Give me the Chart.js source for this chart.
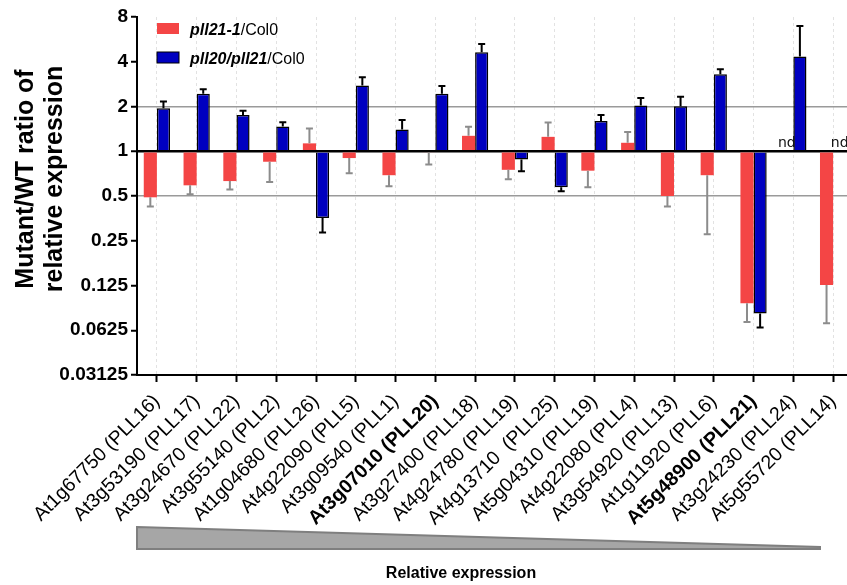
<!DOCTYPE html>
<html>
<head>
<meta charset="utf-8">
<script src="https://cdn.jsdelivr.net/npm/chart.js@4.4.1/dist/chart.umd.min.js"></script>
<style>
html, body { margin: 0; padding: 0; background: #fff; overflow: hidden; }
</style>
</head>
<body>
<canvas id="myChart" width="860" height="585"></canvas>
<script>
const categories = [
    'At1g67750 (PLL16)', 'At3g53190 (PLL17)', 'At3g24670 (PLL22)', 'At3g55140 (PLL2)',
    'At1g04680 (PLL26)', 'At4g22090 (PLL5)', 'At3g09540 (PLL1)', 'At3g07010 (PLL20)',
    'At3g27400 (PLL18)', 'At4g24780 (PLL19)', 'At4g13710  (PLL25)', 'At5g04310 (PLL19)',
    'At4g22080 (PLL4)', 'At3g54920 (PLL13)', 'At1g11920 (PLL6)', 'At5g48900 (PLL21)',
    'At3g24230 (PLL24)', 'At5g55720 (PLL14)'
];
const boldCategories = ['At3g07010 (PLL20)', 'At5g48900 (PLL21)'];
const yTicks = [0.03125, 0.0625, 0.125, 0.25, 0.5, 1, 2, 4, 8];

// ratio values, null = not detected
const pll21 = [0.49, 0.59, 0.63, 0.85, 1.13, 0.90, 0.69, 0.98, 1.27, 0.75, 1.25, 0.74, 1.14, 0.50, 0.69, 0.095, null, 0.126];
const pll21ErrEnd = [0.425, 0.514, 0.552, 0.622, 1.42, 0.711, 0.582, 0.813, 1.46, 0.648, 1.56, 0.573, 1.35, 0.425, 0.277, 0.071, null, 0.0697];
const pll20pll21 = [1.95, 2.44, 1.75, 1.47, 0.356, 2.77, 1.40, 2.44, 4.63, 0.879, 0.573, 1.60, 2.03, 2.01, 3.30, 0.081, 4.34, null];
const pll20pll21ErrEnd = [2.16, 2.61, 1.87, 1.57, 0.284, 3.15, 1.62, 2.75, 5.27, 0.734, 0.538, 1.75, 2.28, 2.33, 3.56, 0.0652, 6.96, null];

const FONT = '"Liberation Sans", Arial, sans-serif';
Chart.defaults.font.family = FONT;
Chart.defaults.color = '#000';

const errorBars = {
    id: 'errorBars',
    afterDatasetsDraw(chart) {
        const ctx = chart.ctx;
        const y = chart.scales.y;
        const ends = [pll21ErrEnd, pll20pll21ErrEnd];
        const colors = ['#8c8c8c', '#000'];
        chart.data.datasets.forEach((ds, i) => {
            const meta = chart.getDatasetMeta(i);
            meta.data.forEach((bar, j) => {
                if (ds.data[j] == null || ends[i][j] == null) return;
                const y0 = y.getPixelForValue(ds.data[j]);
                const y1 = y.getPixelForValue(ends[i][j]);
                ctx.save();
                ctx.strokeStyle = colors[i];
                ctx.lineWidth = 2;
                ctx.beginPath();
                ctx.moveTo(bar.x, y0);
                ctx.lineTo(bar.x, y1);
                ctx.moveTo(bar.x - 3.5, y1);
                ctx.lineTo(bar.x + 3.5, y1);
                ctx.stroke();
                ctx.restore();
            });
        });
    }
};

const decor = {
    id: 'decor',
    afterDraw(chart) {
        const ctx = chart.ctx;
        const area = chart.chartArea;
        const x = chart.scales.x;
        const y = chart.scales.y;

        // legend with bold italic genotype names
        chart.data.datasets.forEach((ds, i) => {
            const top = area.top + 6 + i * 29;
            ctx.save();
            ctx.fillStyle = ds.backgroundColor;
            ctx.fillRect(area.left + 20, top, 22, 11);
            if (ds.borderWidth) {
                ctx.strokeStyle = '#000';
                ctx.lineWidth = 1;
                ctx.strokeRect(area.left + 20, top, 22, 11);
            }
            const cut = ds.label.lastIndexOf('/');
            const a = ds.label.slice(0, cut);
            const b = ds.label.slice(cut);
            ctx.fillStyle = '#000';
            ctx.textBaseline = 'alphabetic';
            ctx.font = 'italic bold 16px ' + FONT;
            ctx.fillText(a, area.left + 53, top + 12);
            const w = ctx.measureText(a).width;
            ctx.font = '16px ' + FONT;
            ctx.fillText(b, area.left + 53 + w, top + 12);
            ctx.restore();
        });

        // nd labels
        const base = y.getPixelForValue(1);
        ctx.save();
        ctx.font = '14px "DejaVu Sans", sans-serif';
        ctx.fillStyle = '#111';
        ctx.textAlign = 'center';
        ctx.textBaseline = 'alphabetic';
        chart.data.datasets.forEach((ds, i) => {
            const meta = chart.getDatasetMeta(i);
            const ref = meta.data.find((b, j) => ds.data[j] != null);
            ds.data.forEach((v, j) => {
                if (v != null) return;
                const cx = x.getPixelForValue(j) + (i === 0 ? -1 : 1) * ref.width / 2;
                ctx.fillText('nd', cx, base - 4);
            });
        });
        ctx.restore();

        // y axis title
        ctx.save();
        ctx.translate(26, 179);
        ctx.rotate(-Math.PI / 2);
        ctx.textAlign = 'center';
        ctx.textBaseline = 'middle';
        ctx.fillStyle = '#000';
        ctx.font = 'bold 25px ' + FONT;
        ctx.fillText('Mutant/WT ratio of', 0, 0);
        ctx.fillText('relative expression', 0, 29);
        ctx.restore();

        // wedge
        ctx.save();
        ctx.beginPath();
        ctx.moveTo(area.left, 527);
        ctx.lineTo(820, 547);
        ctx.lineTo(820, 549);
        ctx.lineTo(area.left, 549);
        ctx.closePath();
        ctx.fillStyle = '#a6a6a6';
        ctx.fill();
        ctx.strokeStyle = '#7f7f7f';
        ctx.lineWidth = 2;
        ctx.stroke();
        ctx.restore();

        ctx.save();
        ctx.font = 'bold 16px ' + FONT;
        ctx.fillStyle = '#000';
        ctx.textAlign = 'center';
        ctx.textBaseline = 'middle';
        ctx.fillText('Relative expression', 461, 574);
        ctx.restore();
    }
};

const ctx = document.getElementById('myChart');
new Chart(ctx, {
    type: 'bar',
    data: {
        labels: categories,
        datasets: [{
            label: 'pll21-1/Col0',
            data: pll21,
            backgroundColor: '#f44545',
            borderWidth: 0,
            base: 1,
            categoryPercentage: 0.66,
            barPercentage: 1
        }, {
            label: 'pll20/pll21/Col0',
            data: pll20pll21,
            backgroundColor: '#0000c0',
            borderColor: '#000',
            borderWidth: 1.5,
            base: 1,
            categoryPercentage: 0.66,
            barPercentage: 1
        }]
    },
    options: {
        responsive: false,
        animation: false,
        layout: { padding: { top: 17, right: 7, left: 0, bottom: 0 } },
        plugins: {
            legend: { display: false },
            tooltip: { enabled: false }
        },
        scales: {
            x: {
                grid: { offset: false, color: '#e2e2e2', lineWidth: 1, tickColor: '#000', tickWidth: 2, tickLength: 7 },
                border: { color: '#000', width: 2, dash: [3, 3] },
                ticks: {
                    autoSkip: false,
                    minRotation: 45,
                    maxRotation: 45,
                    padding: 8,
                    color: '#000',
                    font: (c) => ({
                        size: 19.5,
                        weight: boldCategories.includes(categories[c.index]) ? 'bold' : 'normal'
                    })
                },
                afterFit: (s) => { s.height = 210; }
            },
            y: {
                type: 'logarithmic',
                min: 0.03125,
                max: 8,
                afterBuildTicks: (s) => { s.ticks = yTicks.map(v => ({ value: v })); },
                ticks: {
                    callback: (v) => String(v),
                    color: '#000',
                    padding: 3,
                    font: { size: 19, weight: 'bold' }
                },
                grid: {
                    color: (c) => {
                        const v = c.tick && c.tick.value;
                        if (v === 1) return '#000';
                        if (v === 2 || v === 0.5) return '#9a9a9a';
                        return 'rgba(0,0,0,0)';
                    },
                    lineWidth: (c) => (c.tick && c.tick.value === 1 ? 2.5 : 1.5),
                    tickColor: '#000',
                    tickWidth: 2,
                    tickLength: 6
                },
                border: { color: '#000', width: 2 },
                afterFit: (s) => { s.width = 137; }
            }
        }
    },
    plugins: [errorBars, decor]
});
</script>
</body>
</html>
